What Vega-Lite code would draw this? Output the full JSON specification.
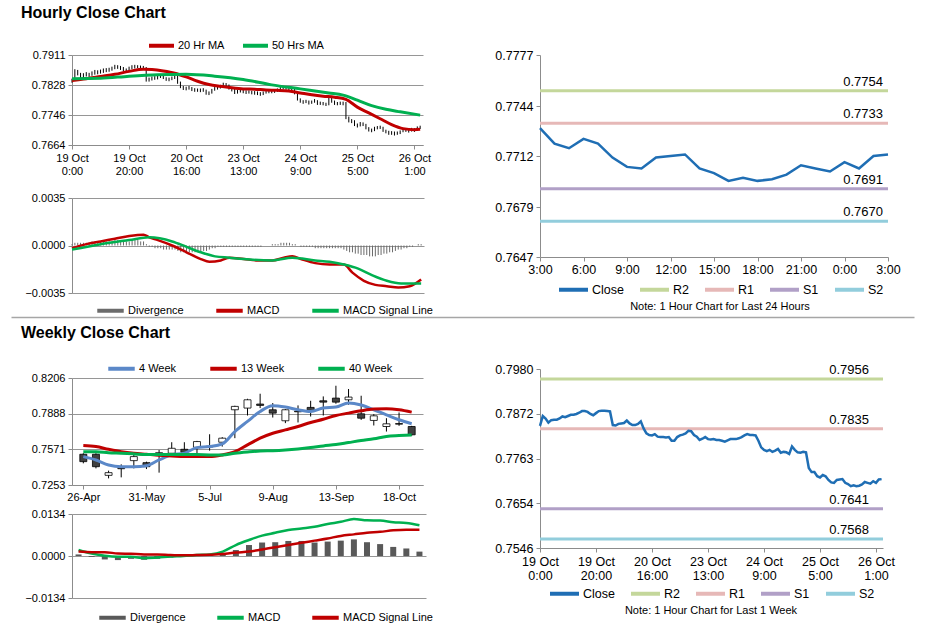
{
"$schema": "https://vega.github.io/schema/vega-lite/v6.json",
"background": "white",
"padding": {"left": 21, "top": 5, "right": 13, "bottom": 10},
"columns": 2,
"align": "none",
"bounds": "flush",
"spacing": {"row": 0, "column": 114},
"resolve": {"scale": {"color": "independent"}, "legend": {"color": "independent"}},
"datasets": {
"hourly": [
{"i":0,"c":0.7842,"h":0.7846,"l":0.7835,"d":0.0001},
{"i":1,"c":0.7866,"h":0.7872,"l":0.7840,"d":0.0002},
{"i":2,"c":0.7860,"h":0.7870,"l":0.7855,"d":0.0002},
{"i":3,"c":0.7850,"h":0.7862,"l":0.7846,"d":0.0002},
{"i":4,"c":0.7856,"h":0.7861,"l":0.7848,"d":0.0002},
{"i":5,"c":0.7857,"h":0.7864,"l":0.7852,"d":0.0002},
{"i":6,"c":0.7857,"h":0.7862,"l":0.7851,"d":0.0002},
{"i":7,"c":0.7860,"h":0.7866,"l":0.7854,"d":0.0003},
{"i":8,"c":0.7865,"h":0.7870,"l":0.7857,"d":0.0003},
{"i":9,"c":0.7863,"h":0.7869,"l":0.7858,"d":0.0003},
{"i":10,"c":0.7866,"h":0.7871,"l":0.7860,"d":0.0003},
{"i":11,"c":0.7869,"h":0.7874,"l":0.7862,"d":0.0003},
{"i":12,"c":0.7869,"h":0.7875,"l":0.7864,"d":0.0003},
{"i":13,"c":0.7871,"h":0.7876,"l":0.7865,"d":0.0003},
{"i":14,"c":0.7874,"h":0.7879,"l":0.7868,"d":0.0003},
{"i":15,"c":0.7878,"h":0.7884,"l":0.7872,"d":0.0004},
{"i":16,"c":0.7878,"h":0.7883,"l":0.7873,"d":0.0004},
{"i":17,"c":0.7876,"h":0.7881,"l":0.7870,"d":0.0004},
{"i":18,"c":0.7871,"h":0.7878,"l":0.7867,"d":0.0003},
{"i":19,"c":0.7868,"h":0.7874,"l":0.7864,"d":0.0003},
{"i":20,"c":0.7873,"h":0.7879,"l":0.7867,"d":0.0003},
{"i":21,"c":0.7878,"h":0.7883,"l":0.7872,"d":0.0004},
{"i":22,"c":0.7879,"h":0.7884,"l":0.7874,"d":0.0004},
{"i":23,"c":0.7879,"h":0.7883,"l":0.7875,"d":0.0004},
{"i":24,"c":0.7878,"h":0.7882,"l":0.7873,"d":0.0003},
{"i":25,"c":0.7877,"h":0.7881,"l":0.7872,"d":0.0003},
{"i":26,"c":0.7844,"h":0.7878,"l":0.7838,"d":0.0001},
{"i":27,"c":0.7843,"h":0.7849,"l":0.7838,"d":-0.0001},
{"i":28,"c":0.7847,"h":0.7852,"l":0.7841,"d":-0.0001},
{"i":29,"c":0.7848,"h":0.7853,"l":0.7843,"d":-0.0002},
{"i":30,"c":0.7849,"h":0.7854,"l":0.7844,"d":-0.0002},
{"i":31,"c":0.7855,"h":0.7859,"l":0.7848,"d":-0.0002},
{"i":32,"c":0.7848,"h":0.7856,"l":0.7845,"d":-0.0003},
{"i":33,"c":0.7844,"h":0.7850,"l":0.7840,"d":-0.0003},
{"i":34,"c":0.7844,"h":0.7849,"l":0.7839,"d":-0.0003},
{"i":35,"c":0.7847,"h":0.7852,"l":0.7842,"d":-0.0003},
{"i":36,"c":0.7853,"h":0.7858,"l":0.7845,"d":-0.0003},
{"i":37,"c":0.7836,"h":0.7855,"l":0.7832,"d":-0.0004},
{"i":38,"c":0.7824,"h":0.7838,"l":0.7820,"d":-0.0005},
{"i":39,"c":0.7820,"h":0.7826,"l":0.7815,"d":-0.0005},
{"i":40,"c":0.7819,"h":0.7824,"l":0.7814,"d":-0.0005},
{"i":41,"c":0.7822,"h":0.7826,"l":0.7816,"d":-0.0005},
{"i":42,"c":0.7816,"h":0.7823,"l":0.7812,"d":-0.0005},
{"i":43,"c":0.7815,"h":0.7820,"l":0.7810,"d":-0.0005},
{"i":44,"c":0.7815,"h":0.7819,"l":0.7810,"d":-0.0005},
{"i":45,"c":0.7814,"h":0.7819,"l":0.7809,"d":-0.0005},
{"i":46,"c":0.7815,"h":0.7820,"l":0.7810,"d":-0.0004},
{"i":47,"c":0.7806,"h":0.7816,"l":0.7802,"d":-0.0004},
{"i":48,"c":0.7806,"h":0.7811,"l":0.7801,"d":-0.0003},
{"i":49,"c":0.7815,"h":0.7818,"l":0.7805,"d":-0.0002},
{"i":50,"c":0.7819,"h":0.7823,"l":0.7813,"d":-0.0002},
{"i":51,"c":0.7821,"h":0.7826,"l":0.7816,"d":-0.0001},
{"i":52,"c":0.7824,"h":0.7829,"l":0.7819,"d":-0.0001},
{"i":53,"c":0.7830,"h":0.7835,"l":0.7823,"d":-0.0001},
{"i":54,"c":0.7829,"h":0.7834,"l":0.7824,"d":-0.0001},
{"i":55,"c":0.7820,"h":0.7830,"l":0.7816,"d":-0.0001},
{"i":56,"c":0.7816,"h":0.7822,"l":0.7811,"d":-0.0001},
{"i":57,"c":0.7808,"h":0.7818,"l":0.7804,"d":-0.0001},
{"i":58,"c":0.7811,"h":0.7815,"l":0.7805,"d":-0.0001},
{"i":59,"c":0.7815,"h":0.7818,"l":0.7808,"d":-0.0001},
{"i":60,"c":0.7810,"h":0.7816,"l":0.7806,"d":-0.0001},
{"i":61,"c":0.7809,"h":0.7814,"l":0.7804,"d":-0.0001},
{"i":62,"c":0.7810,"h":0.7814,"l":0.7805,"d":-0.0001},
{"i":63,"c":0.7808,"h":0.7813,"l":0.7803,"d":-0.0001},
{"i":64,"c":0.7808,"h":0.7812,"l":0.7802,"d":-0.0001},
{"i":65,"c":0.7806,"h":0.7811,"l":0.7801,"d":-0.0001},
{"i":66,"c":0.7804,"h":0.7809,"l":0.7799,"d":-0.0001},
{"i":67,"c":0.7807,"h":0.7811,"l":0.7801,"d":0.0},
{"i":68,"c":0.7810,"h":0.7814,"l":0.7805,"d":0.0},
{"i":69,"c":0.7810,"h":0.7814,"l":0.7806,"d":0.0},
{"i":70,"c":0.7810,"h":0.7815,"l":0.7806,"d":0.0001},
{"i":71,"c":0.7812,"h":0.7816,"l":0.7807,"d":0.0001},
{"i":72,"c":0.7815,"h":0.7819,"l":0.7810,"d":0.0001},
{"i":73,"c":0.7819,"h":0.7823,"l":0.7813,"d":0.0002},
{"i":74,"c":0.7822,"h":0.7826,"l":0.7817,"d":0.0002},
{"i":75,"c":0.7820,"h":0.7825,"l":0.7816,"d":0.0002},
{"i":76,"c":0.7820,"h":0.7824,"l":0.7815,"d":0.0002},
{"i":77,"c":0.7819,"h":0.7823,"l":0.7814,"d":0.0001},
{"i":78,"c":0.7806,"h":0.7821,"l":0.7803,"d":0.0001},
{"i":79,"c":0.7790,"h":0.7808,"l":0.7786,"d":0.0},
{"i":80,"c":0.7784,"h":0.7792,"l":0.7780,"d":-0.0001},
{"i":81,"c":0.7781,"h":0.7787,"l":0.7777,"d":-0.0001},
{"i":82,"c":0.7784,"h":0.7788,"l":0.7779,"d":-0.0001},
{"i":83,"c":0.7779,"h":0.7786,"l":0.7775,"d":-0.0001},
{"i":84,"c":0.7782,"h":0.7786,"l":0.7777,"d":-0.0001},
{"i":85,"c":0.7786,"h":0.7790,"l":0.7780,"d":-0.0002},
{"i":86,"c":0.7777,"h":0.7787,"l":0.7774,"d":-0.0002},
{"i":87,"c":0.7779,"h":0.7783,"l":0.7774,"d":-0.0002},
{"i":88,"c":0.7778,"h":0.7782,"l":0.7773,"d":-0.0002},
{"i":89,"c":0.7774,"h":0.7780,"l":0.7771,"d":-0.0002},
{"i":90,"c":0.7792,"h":0.7795,"l":0.7773,"d":-0.0002},
{"i":91,"c":0.7784,"h":0.7793,"l":0.7780,"d":-0.0002},
{"i":92,"c":0.7778,"h":0.7786,"l":0.7774,"d":-0.0002},
{"i":93,"c":0.7777,"h":0.7782,"l":0.7773,"d":-0.0002},
{"i":94,"c":0.7779,"h":0.7783,"l":0.7774,"d":-0.0002},
{"i":95,"c":0.7778,"h":0.7783,"l":0.7773,"d":-0.0003},
{"i":96,"c":0.7740,"h":0.7782,"l":0.7735,"d":-0.0004},
{"i":97,"c":0.7730,"h":0.7742,"l":0.7726,"d":-0.0005},
{"i":98,"c":0.7730,"h":0.7735,"l":0.7724,"d":-0.0005},
{"i":99,"c":0.7720,"h":0.7732,"l":0.7716,"d":-0.0006},
{"i":100,"c":0.7717,"h":0.7723,"l":0.7712,"d":-0.0006},
{"i":101,"c":0.7723,"h":0.7727,"l":0.7715,"d":-0.0007},
{"i":102,"c":0.7720,"h":0.7726,"l":0.7716,"d":-0.0007},
{"i":103,"c":0.7711,"h":0.7722,"l":0.7707,"d":-0.0007},
{"i":104,"c":0.7705,"h":0.7713,"l":0.7701,"d":-0.0008},
{"i":105,"c":0.7704,"h":0.7709,"l":0.7699,"d":-0.0008},
{"i":106,"c":0.7711,"h":0.7714,"l":0.7702,"d":-0.0008},
{"i":107,"c":0.7712,"h":0.7716,"l":0.7707,"d":-0.0007},
{"i":108,"c":0.7713,"h":0.7717,"l":0.7708,"d":-0.0007},
{"i":109,"c":0.7704,"h":0.7714,"l":0.7700,"d":-0.0006},
{"i":110,"c":0.7701,"h":0.7706,"l":0.7696,"d":-0.0006},
{"i":111,"c":0.7696,"h":0.7703,"l":0.7692,"d":-0.0005},
{"i":112,"c":0.7698,"h":0.7702,"l":0.7692,"d":-0.0005},
{"i":113,"c":0.7696,"h":0.7701,"l":0.7690,"d":-0.0004},
{"i":114,"c":0.7697,"h":0.7701,"l":0.7692,"d":-0.0003},
{"i":115,"c":0.7700,"h":0.7704,"l":0.7694,"d":-0.0003},
{"i":116,"c":0.7706,"h":0.7709,"l":0.7699,"d":-0.0002},
{"i":117,"c":0.7704,"h":0.7709,"l":0.7700,"d":-0.0002},
{"i":118,"c":0.7702,"h":0.7707,"l":0.7698,"d":-0.0001},
{"i":119,"c":0.7708,"h":0.7711,"l":0.7701,"d":-0.0001},
{"i":120,"c":0.7704,"h":0.7710,"l":0.7700,"d":0.0},
{"i":121,"c":0.7712,"h":0.7715,"l":0.7703,"d":0.0001},
{"i":122,"c":0.7713,"h":0.7717,"l":0.7708,"d":0.0001}
],
"hl": [
{"i":0,"s":"20 Hr MA","v":0.7841},{"i":5,"s":"20 Hr MA","v":0.7846},{"i":10,"s":"20 Hr MA","v":0.7852},{"i":15,"s":"20 Hr MA","v":0.7858},{"i":20,"s":"20 Hr MA","v":0.7866},{"i":25,"s":"20 Hr MA","v":0.7872},{"i":28,"s":"20 Hr MA","v":0.7871},{"i":32,"s":"20 Hr MA","v":0.7867},{"i":36,"s":"20 Hr MA","v":0.7861},{"i":40,"s":"20 Hr MA","v":0.7851},{"i":44,"s":"20 Hr MA","v":0.7839},{"i":48,"s":"20 Hr MA","v":0.7830},{"i":52,"s":"20 Hr MA","v":0.7825},{"i":56,"s":"20 Hr MA","v":0.7821},{"i":60,"s":"20 Hr MA","v":0.7818},{"i":64,"s":"20 Hr MA","v":0.7817},{"i":68,"s":"20 Hr MA","v":0.7815},{"i":72,"s":"20 Hr MA","v":0.7814},{"i":76,"s":"20 Hr MA","v":0.7812},{"i":80,"s":"20 Hr MA","v":0.7807},{"i":84,"s":"20 Hr MA","v":0.7802},{"i":88,"s":"20 Hr MA","v":0.7798},{"i":92,"s":"20 Hr MA","v":0.7795},{"i":96,"s":"20 Hr MA","v":0.7789},{"i":100,"s":"20 Hr MA","v":0.7768},{"i":104,"s":"20 Hr MA","v":0.7752},{"i":108,"s":"20 Hr MA","v":0.7736},{"i":112,"s":"20 Hr MA","v":0.7720},{"i":116,"s":"20 Hr MA","v":0.7709},{"i":120,"s":"20 Hr MA","v":0.7706},{"i":122,"s":"20 Hr MA","v":0.7707},
{"i":0,"s":"50 Hrs MA","v":0.7846},{"i":10,"s":"50 Hrs MA","v":0.7847},{"i":20,"s":"50 Hrs MA","v":0.7853},{"i":30,"s":"50 Hrs MA","v":0.7857},{"i":40,"s":"50 Hrs MA","v":0.7858},{"i":50,"s":"50 Hrs MA","v":0.7853},{"i":60,"s":"50 Hrs MA","v":0.7844},{"i":70,"s":"50 Hrs MA","v":0.7829},{"i":80,"s":"50 Hrs MA","v":0.7818},{"i":90,"s":"50 Hrs MA","v":0.7807},{"i":95,"s":"50 Hrs MA","v":0.7801},{"i":100,"s":"50 Hrs MA","v":0.7787},{"i":105,"s":"50 Hrs MA","v":0.7772},{"i":110,"s":"50 Hrs MA","v":0.7762},{"i":115,"s":"50 Hrs MA","v":0.7755},{"i":122,"s":"50 Hrs MA","v":0.7746},
{"i":0,"s":"MACD","v":-0.0002},{"i":5,"s":"MACD","v":0.0001},{"i":10,"s":"MACD","v":0.0003},{"i":15,"s":"MACD","v":0.0005},{"i":20,"s":"MACD","v":0.0007},{"i":25,"s":"MACD","v":0.0008},{"i":27,"s":"MACD","v":0.0006},{"i":30,"s":"MACD","v":0.0004},{"i":35,"s":"MACD","v":0.0},{"i":40,"s":"MACD","v":-0.0005},{"i":45,"s":"MACD","v":-0.0010},{"i":48,"s":"MACD","v":-0.0012},{"i":52,"s":"MACD","v":-0.0011},{"i":55,"s":"MACD","v":-0.0009},{"i":60,"s":"MACD","v":-0.0010},{"i":65,"s":"MACD","v":-0.0011},{"i":70,"s":"MACD","v":-0.0011},{"i":74,"s":"MACD","v":-0.0009},{"i":77,"s":"MACD","v":-0.0008},{"i":80,"s":"MACD","v":-0.0010},{"i":85,"s":"MACD","v":-0.0013},{"i":90,"s":"MACD","v":-0.0014},{"i":95,"s":"MACD","v":-0.0014},{"i":98,"s":"MACD","v":-0.0020},{"i":102,"s":"MACD","v":-0.0026},{"i":106,"s":"MACD","v":-0.0029},{"i":110,"s":"MACD","v":-0.0030},{"i":114,"s":"MACD","v":-0.0031},{"i":118,"s":"MACD","v":-0.0030},{"i":122,"s":"MACD","v":-0.0025},
{"i":0,"s":"MACD Signal Line","v":-0.0003},{"i":10,"s":"MACD Signal Line","v":0.0001},{"i":20,"s":"MACD Signal Line","v":0.0004},{"i":27,"s":"MACD Signal Line","v":0.0006},{"i":35,"s":"MACD Signal Line","v":0.0003},{"i":40,"s":"MACD Signal Line","v":-0.0001},{"i":45,"s":"MACD Signal Line","v":-0.0005},{"i":50,"s":"MACD Signal Line","v":-0.0008},{"i":55,"s":"MACD Signal Line","v":-0.0009},{"i":60,"s":"MACD Signal Line","v":-0.0010},{"i":70,"s":"MACD Signal Line","v":-0.0011},{"i":77,"s":"MACD Signal Line","v":-0.0009},{"i":85,"s":"MACD Signal Line","v":-0.0011},{"i":90,"s":"MACD Signal Line","v":-0.0012},{"i":95,"s":"MACD Signal Line","v":-0.0014},{"i":100,"s":"MACD Signal Line","v":-0.0017},{"i":105,"s":"MACD Signal Line","v":-0.0022},{"i":110,"s":"MACD Signal Line","v":-0.0026},{"i":115,"s":"MACD Signal Line","v":-0.0028},{"i":122,"s":"MACD Signal Line","v":-0.0028}
],
"lv1": [{"s":"R2","v":0.7754},{"s":"R1","v":0.7733},{"s":"S1","v":0.7691},{"s":"S2","v":0.7670}],
"lv2": [{"s":"R2","v":0.7956},{"s":"R1","v":0.7835},{"s":"S1","v":0.7641},{"s":"S2","v":0.7568}],
"wk": [
{"w":0,"o":0.7527,"h":0.7536,"l":0.7446,"c":0.7461,"d":0.0005},
{"w":1,"o":0.7527,"h":0.7536,"l":0.7401,"c":0.7416,"d":-0.0003},
{"w":2,"o":0.7339,"h":0.7381,"l":0.7312,"c":0.7363,"d":-0.0011},
{"w":3,"o":0.7398,"h":0.7437,"l":0.7321,"c":0.7401,"d":-0.0013},
{"w":4,"o":0.7470,"h":0.7521,"l":0.7401,"c":0.7506,"d":-0.0009},
{"w":5,"o":0.7452,"h":0.7461,"l":0.7395,"c":0.7416,"d":-0.0012},
{"w":6,"o":0.7515,"h":0.7565,"l":0.7363,"c":0.7541,"d":-0.0009},
{"w":7,"o":0.7536,"h":0.7634,"l":0.7521,"c":0.7580,"d":-0.0005},
{"w":8,"o":0.7571,"h":0.7634,"l":0.7521,"c":0.7544,"d":-0.0003},
{"w":9,"o":0.7589,"h":0.7646,"l":0.7536,"c":0.7640,"d":0.0001},
{"w":10,"o":0.7592,"h":0.7705,"l":0.7559,"c":0.7598,"d":0.0002},
{"w":11,"o":0.7634,"h":0.7679,"l":0.7595,"c":0.7670,"d":0.0008},
{"w":12,"o":0.7923,"h":0.7959,"l":0.7670,"c":0.7953,"d":0.0019},
{"w":13,"o":0.7938,"h":0.8021,"l":0.7872,"c":0.8012,"d":0.0035},
{"w":14,"o":0.7974,"h":0.8066,"l":0.7938,"c":0.7962,"d":0.0043},
{"w":15,"o":0.7923,"h":0.7983,"l":0.7854,"c":0.7893,"d":0.0044},
{"w":16,"o":0.7825,"h":0.7929,"l":0.7804,"c":0.7923,"d":0.0048},
{"w":17,"o":0.7911,"h":0.7962,"l":0.7810,"c":0.7905,"d":0.0048},
{"w":18,"o":0.7944,"h":0.8003,"l":0.7863,"c":0.7917,"d":0.0043},
{"w":19,"o":0.8003,"h":0.8042,"l":0.7872,"c":0.7991,"d":0.0046},
{"w":20,"o":0.8027,"h":0.8137,"l":0.7977,"c":0.7991,"d":0.0049},
{"w":21,"o":0.8012,"h":0.8108,"l":0.7968,"c":0.8036,"d":0.0053},
{"w":22,"o":0.7887,"h":0.8048,"l":0.7833,"c":0.7848,"d":0.0044},
{"w":23,"o":0.7828,"h":0.7884,"l":0.7783,"c":0.7869,"d":0.0038},
{"w":24,"o":0.7774,"h":0.7848,"l":0.7729,"c":0.7798,"d":0.0029},
{"w":25,"o":0.7800,"h":0.7899,"l":0.7780,"c":0.7795,"d":0.0024},
{"w":26,"o":0.7774,"h":0.7780,"l":0.7691,"c":0.7700,"d":0.0014}
],
"wl": [
{"w":0,"s":"4 Week","v":0.7506},{"w":1,"s":"4 Week","v":0.7476},{"w":2,"s":"4 Week","v":0.7431},{"w":3,"s":"4 Week","v":0.7416},{"w":4,"s":"4 Week","v":0.7416},{"w":5,"s":"4 Week","v":0.7425},{"w":6,"s":"4 Week","v":0.7476},{"w":7,"s":"4 Week","v":0.7521},{"w":8,"s":"4 Week","v":0.7536},{"w":9,"s":"4 Week","v":0.7586},{"w":10,"s":"4 Week","v":0.7595},{"w":11,"s":"4 Week","v":0.7619},{"w":12,"s":"4 Week","v":0.7729},{"w":13,"s":"4 Week","v":0.7819},{"w":14,"s":"4 Week","v":0.7908},{"w":15,"s":"4 Week","v":0.7959},{"w":16,"s":"4 Week","v":0.7947},{"w":17,"s":"4 Week","v":0.7923},{"w":18,"s":"4 Week","v":0.7908},{"w":19,"s":"4 Week","v":0.7938},{"w":20,"s":"4 Week","v":0.7947},{"w":21,"s":"4 Week","v":0.7983},{"w":22,"s":"4 Week","v":0.7965},{"w":23,"s":"4 Week","v":0.7923},{"w":24,"s":"4 Week","v":0.7878},{"w":25,"s":"4 Week","v":0.7834},{"w":26,"s":"4 Week","v":0.7798},
{"w":0,"s":"13 Week","v":0.7604},{"w":1,"s":"13 Week","v":0.7595},{"w":2,"s":"13 Week","v":0.7571},{"w":3,"s":"13 Week","v":0.7550},{"w":4,"s":"13 Week","v":0.7536},{"w":5,"s":"13 Week","v":0.7527},{"w":6,"s":"13 Week","v":0.7518},{"w":7,"s":"13 Week","v":0.7512},{"w":8,"s":"13 Week","v":0.7506},{"w":9,"s":"13 Week","v":0.7506},{"w":10,"s":"13 Week","v":0.7506},{"w":11,"s":"13 Week","v":0.7521},{"w":12,"s":"13 Week","v":0.7550},{"w":13,"s":"13 Week","v":0.7610},{"w":14,"s":"13 Week","v":0.7670},{"w":15,"s":"13 Week","v":0.7714},{"w":16,"s":"13 Week","v":0.7744},{"w":17,"s":"13 Week","v":0.7774},{"w":18,"s":"13 Week","v":0.7810},{"w":19,"s":"13 Week","v":0.7839},{"w":20,"s":"13 Week","v":0.7872},{"w":21,"s":"13 Week","v":0.7893},{"w":22,"s":"13 Week","v":0.7914},{"w":23,"s":"13 Week","v":0.7929},{"w":24,"s":"13 Week","v":0.7932},{"w":25,"s":"13 Week","v":0.7923},{"w":26,"s":"13 Week","v":0.7902},
{"w":0,"s":"40 Week","v":0.7550},{"w":1,"s":"40 Week","v":0.7550},{"w":2,"s":"40 Week","v":0.7541},{"w":3,"s":"40 Week","v":0.7536},{"w":4,"s":"40 Week","v":0.7530},{"w":5,"s":"40 Week","v":0.7524},{"w":6,"s":"40 Week","v":0.7524},{"w":7,"s":"40 Week","v":0.7524},{"w":8,"s":"40 Week","v":0.7524},{"w":9,"s":"40 Week","v":0.7524},{"w":10,"s":"40 Week","v":0.7521},{"w":11,"s":"40 Week","v":0.7521},{"w":12,"s":"40 Week","v":0.7536},{"w":13,"s":"40 Week","v":0.7547},{"w":14,"s":"40 Week","v":0.7556},{"w":15,"s":"40 Week","v":0.7559},{"w":16,"s":"40 Week","v":0.7565},{"w":17,"s":"40 Week","v":0.7574},{"w":18,"s":"40 Week","v":0.7586},{"w":19,"s":"40 Week","v":0.7601},{"w":20,"s":"40 Week","v":0.7613},{"w":21,"s":"40 Week","v":0.7631},{"w":22,"s":"40 Week","v":0.7649},{"w":23,"s":"40 Week","v":0.7664},{"w":24,"s":"40 Week","v":0.7685},{"w":25,"s":"40 Week","v":0.7693},{"w":26,"s":"40 Week","v":0.7699},
{"w":0,"s":"MACD","v":0.0019},{"w":1,"s":"MACD","v":0.0008},{"w":2,"s":"MACD","v":0.0001},{"w":3,"s":"MACD","v":-0.0002},{"w":4,"s":"MACD","v":-0.0002},{"w":5,"s":"MACD","v":-0.0007},{"w":6,"s":"MACD","v":-0.0005},{"w":7,"s":"MACD","v":-0.0002},{"w":8,"s":"MACD","v":0.0},{"w":9,"s":"MACD","v":0.0003},{"w":10,"s":"MACD","v":0.0005},{"w":11,"s":"MACD","v":0.0014},{"w":12,"s":"MACD","v":0.0035},{"w":13,"s":"MACD","v":0.0051},{"w":14,"s":"MACD","v":0.0065},{"w":15,"s":"MACD","v":0.0074},{"w":16,"s":"MACD","v":0.0083},{"w":17,"s":"MACD","v":0.0088},{"w":18,"s":"MACD","v":0.0093},{"w":19,"s":"MACD","v":0.0102},{"w":20,"s":"MACD","v":0.0109},{"w":21,"s":"MACD","v":0.0118},{"w":22,"s":"MACD","v":0.0114},{"w":23,"s":"MACD","v":0.0113},{"w":24,"s":"MACD","v":0.0108},{"w":25,"s":"MACD","v":0.0105},{"w":26,"s":"MACD","v":0.0098},
{"w":0,"s":"MACD Signal Line","v":0.0014},{"w":1,"s":"MACD Signal Line","v":0.0012},{"w":2,"s":"MACD Signal Line","v":0.0012},{"w":3,"s":"MACD Signal Line","v":0.0008},{"w":4,"s":"MACD Signal Line","v":0.0007},{"w":5,"s":"MACD Signal Line","v":0.0005},{"w":6,"s":"MACD Signal Line","v":0.0005},{"w":7,"s":"MACD Signal Line","v":0.0003},{"w":8,"s":"MACD Signal Line","v":0.0002},{"w":9,"s":"MACD Signal Line","v":0.0003},{"w":10,"s":"MACD Signal Line","v":0.0004},{"w":11,"s":"MACD Signal Line","v":0.0006},{"w":12,"s":"MACD Signal Line","v":0.0011},{"w":13,"s":"MACD Signal Line","v":0.0014},{"w":14,"s":"MACD Signal Line","v":0.0021},{"w":15,"s":"MACD Signal Line","v":0.0028},{"w":16,"s":"MACD Signal Line","v":0.0035},{"w":17,"s":"MACD Signal Line","v":0.0042},{"w":18,"s":"MACD Signal Line","v":0.0049},{"w":19,"s":"MACD Signal Line","v":0.0056},{"w":20,"s":"MACD Signal Line","v":0.0064},{"w":21,"s":"MACD Signal Line","v":0.0069},{"w":22,"s":"MACD Signal Line","v":0.0074},{"w":23,"s":"MACD Signal Line","v":0.0077},{"w":24,"s":"MACD Signal Line","v":0.0082},{"w":25,"s":"MACD Signal Line","v":0.0084},{"w":26,"s":"MACD Signal Line","v":0.0084}
]
},
"concat": [
{"width": 1, "height": 1, "data": {"values": []}, "mark": "point",
 "title": {"text": "Hourly Close Chart", "anchor": "start", "frame": "group", "dx": -51, "offset": 33, "fontSize": 16, "fontWeight": "bold", "color": "#000000", "font": "Liberation Sans"}},
{"width": 1, "height": 1, "data": {"values": []}, "mark": "point"},
{
"width": 351, "height": 90,
"layer": [
{"data": {"name": "hourly"}, "mark": {"type": "rule", "color": "#000000", "strokeWidth": 1},
 "encoding": {
  "x": {"field": "i", "type": "quantitative", "scale": {"domain": [0, 123], "nice": false, "zero": false},
        "axis": {"title": null, "values": [0,20,40,60,80,100,120], "tickCount": 20, "grid": false, "labelExpr": "[['19 Oct','0:00'],['19 Oct','20:00'],['20 Oct','16:00'],['23 Oct','13:00'],['24 Oct','9:00'],['25 Oct','5:00'],['26 Oct','1:00']][datum.value/20]", "labelLineHeight": 13, "labelPadding": 3}},
  "y": {"field": "l", "type": "quantitative", "scale": {"domain": [0.7664, 0.7911], "nice": false, "zero": false},
        "axis": {"title": null, "values": [0.7664, 0.7746, 0.7828, 0.7911], "tickCount": 20, "format": ".4f", "grid": true}},
  "y2": {"field": "h"}}},
{"data": {"name": "hl"}, "transform": [{"filter": {"field": "s", "oneOf": ["20 Hr MA", "50 Hrs MA"]}}],
 "mark": {"type": "line", "strokeWidth": 3, "interpolate": "monotone"},
 "encoding": {
  "x": {"field": "i", "type": "quantitative"},
  "y": {"field": "v", "type": "quantitative"},
  "color": {"field": "s", "type": "nominal", "scale": {"domain": ["20 Hr MA", "50 Hrs MA"], "range": ["#C00000", "#00B050"]},
            "legend": {"title": null, "orient": "none", "direction": "horizontal", "legendX": 75, "legendY": -24, "columnPadding": 10, "symbolSize": 625}}}}
]
},
{
"width": 348, "height": 90,
"layer": [
{"data": {"name": "lv1"}, "mark": {"type": "rule", "strokeWidth": 3},
 "encoding": {
  "y": {"field": "v", "type": "quantitative", "scale": {"domain": [0.7647, 0.7777], "range": [202, 0], "nice": false, "zero": false},
        "axis": {"title": null, "values": [0.7647, 0.7679, 0.7712, 0.7744, 0.7777], "tickCount": 20, "format": ".4f", "grid": false, "labelFontSize": 12.5}},
  "color": {"field": "s", "type": "nominal"}}},
{"data": {"name": "hourly"}, "transform": [{"filter": "datum.i >= 98"}],
 "mark": {"type": "line", "strokeWidth": 2.5},
 "encoding": {
  "x": {"field": "i", "type": "quantitative", "scale": {"domain": [98, 122], "nice": false, "zero": false},
        "axis": {"title": null, "offset": 112, "values": [98,101,104,107,110,113,116,119,122], "tickCount": 20, "grid": false, "labelExpr": "((datum.value - 95) % 24) + ':00'", "labelFontSize": 12.5, "labelPadding": 2}},
  "y": {"field": "c", "type": "quantitative"},
  "color": {"datum": "Close", "type": "nominal", "scale": {"domain": ["Close", "R2", "R1", "S1", "S2"], "range": ["#1F6EB4", "#C4D79B", "#E6B8B7", "#B1A0C7", "#92CDDC"]},
            "legend": {"title": "Note: 1 Hour Chart for Last 24 Hours", "titleOrient": "bottom", "titleAnchor": "middle", "titleFontSize": 11, "titleFontWeight": "normal", "titleColor": "#000000", "titlePadding": 3, "orient": "none", "direction": "horizontal", "legendX": 17, "legendY": 218, "columnPadding": 8, "symbolSize": 841, "labelFontSize": 12.5}}}},
{"data": {"name": "lv1"}, "mark": {"type": "text", "align": "right", "baseline": "alphabetic", "dx": -5, "dy": -5, "fontSize": 13, "color": "#000000"},
 "encoding": {
  "x": {"datum": 122, "type": "quantitative"},
  "y": {"field": "v", "type": "quantitative"},
  "text": {"field": "v", "type": "quantitative", "format": ".4f"}}}
]
},
{"width": 1, "height": 53, "data": {"values": []}, "mark": "point"},
{"width": 1, "height": 1, "data": {"values": []}, "mark": "point"},
{
"width": 352, "height": 95,
"layer": [
{"data": {"name": "hourly"}, "mark": {"type": "rule", "strokeWidth": 1},
 "encoding": {
  "x": {"field": "i", "type": "quantitative", "scale": {"domain": [0, 123], "nice": false, "zero": false}, "axis": null},
  "y": {"field": "d", "type": "quantitative", "scale": {"domain": [-0.0035, 0.0035], "nice": false},
        "axis": {"title": null, "values": [-0.0035, 0, 0.0035], "tickCount": 20, "format": ".4f", "grid": true}},
  "y2": {"datum": 0},
  "color": {"datum": "Divergence", "type": "nominal"}}},
{"data": {"name": "hl"}, "transform": [{"filter": {"field": "s", "oneOf": ["MACD", "MACD Signal Line"]}}],
 "mark": {"type": "line", "strokeWidth": 2.5, "interpolate": "monotone"},
 "encoding": {
  "x": {"field": "i", "type": "quantitative"},
  "y": {"field": "v", "type": "quantitative"},
  "color": {"field": "s", "type": "nominal", "scale": {"domain": ["Divergence", "MACD", "MACD Signal Line"], "range": ["#6B6B6B", "#C00000", "#00B050"]},
            "legend": {"title": null, "orient": "none", "direction": "horizontal", "legendX": 23, "legendY": 97, "columnPadding": 24}}}}
]
},
{"width": 1, "height": 1, "data": {"values": []}, "mark": "point"},
{"width": 1, "height": 24, "data": {"values": []}, "mark": "point"},
{"width": 1, "height": 1, "data": {"values": []}, "mark": "point"},
{
"width": 1, "height": 24,
"data": {"values": [{"v": 0}]},
"mark": {"type": "point", "opacity": 0},
"encoding": {"x": {"field": "v", "type": "quantitative", "scale": {"range": [-61, 842]}, "axis": {"orient": "top", "domain": true, "domainColor": "#A6A6A6", "domainWidth": 1.5, "ticks": false, "labels": false, "grid": false, "title": null}}}
},
{"width": 1, "height": 1, "data": {"values": []}, "mark": "point"},
{"width": 1, "height": 1, "data": {"values": []}, "mark": "point",
 "title": {"text": "Weekly Close Chart", "anchor": "start", "frame": "group", "dx": -51, "offset": 0, "fontSize": 16, "fontWeight": "bold", "color": "#000000", "font": "Liberation Sans"}},
{"width": 1, "height": 1, "data": {"values": []}, "mark": "point"},
{"width": 1, "height": 36, "data": {"values": []}, "mark": "point"},
{"width": 1, "height": 1, "data": {"values": []}, "mark": "point"},
{
"width": 351, "height": 107,
"layer": [
{"data": {"name": "wk"}, "mark": {"type": "rule", "color": "#000000", "strokeWidth": 1},
 "encoding": {
  "x": {"field": "w", "type": "quantitative", "scale": {"domain": [-0.5, 26.5], "nice": false, "zero": false},
        "axis": {"title": null, "values": [0,5,10,15,20,25], "tickCount": 20, "grid": false, "labelExpr": "['26-Apr','31-May','5-Jul','9-Aug','13-Sep','18-Oct'][datum.value/5]", "labelPadding": 2}},
  "y": {"field": "l", "type": "quantitative", "scale": {"domain": [0.7253, 0.8206], "nice": false, "zero": false},
        "axis": {"title": null, "values": [0.7253, 0.7571, 0.7888, 0.8206], "tickCount": 20, "format": ".4f", "grid": true}},
  "y2": {"field": "h"}}},
{"data": {"name": "wk"}, "mark": {"type": "bar", "size": 7, "stroke": "#000000", "strokeWidth": 0.8},
 "encoding": {
  "x": {"field": "w", "type": "quantitative"},
  "y": {"field": "o", "type": "quantitative"},
  "y2": {"field": "c"},
  "fill": {"condition": {"test": "datum.c >= datum.o", "value": "#FFFFFF"}, "value": "#404040"}}},
{"data": {"name": "wl"}, "transform": [{"filter": {"field": "s", "oneOf": ["4 Week", "13 Week", "40 Week"]}}],
 "mark": {"type": "line", "strokeWidth": 3, "interpolate": "monotone"},
 "encoding": {
  "x": {"field": "w", "type": "quantitative"},
  "y": {"field": "v", "type": "quantitative"},
  "color": {"field": "s", "type": "nominal", "scale": {"domain": ["4 Week", "13 Week", "40 Week"], "range": ["#5B88C8", "#C00000", "#00B050"]},
            "legend": {"title": null, "orient": "none", "direction": "horizontal", "legendX": 34, "legendY": -25, "columnPadding": 25}}}}
]
},
{
"width": 343, "height": 107,
"layer": [
{"data": {"name": "lv2"}, "mark": {"type": "rule", "strokeWidth": 3},
 "encoding": {
  "y": {"field": "v", "type": "quantitative", "scale": {"domain": [0.7546, 0.7980], "range": [170, -9], "nice": false, "zero": false},
        "axis": {"title": null, "values": [0.7546, 0.7654, 0.7763, 0.7872, 0.7980], "tickCount": 20, "format": ".4f", "grid": false, "labelFontSize": 12.5}},
  "color": {"field": "s", "type": "nominal"}}},
{"data": {"name": "hourly"},
 "mark": {"type": "line", "strokeWidth": 2.5},
 "encoding": {
  "x": {"field": "i", "type": "quantitative", "scale": {"domain": [0, 122.5], "nice": false, "zero": false},
        "axis": {"title": null, "offset": 63, "values": [0,20,40,60,80,100,120], "tickCount": 20, "grid": false, "labelExpr": "[['19 Oct','0:00'],['19 Oct','20:00'],['20 Oct','16:00'],['23 Oct','13:00'],['24 Oct','9:00'],['25 Oct','5:00'],['26 Oct','1:00']][datum.value/20]", "labelFontSize": 12.5, "labelLineHeight": 14, "labelPadding": 3}},
  "y": {"field": "c", "type": "quantitative"},
  "color": {"datum": "Close", "type": "nominal", "scale": {"domain": ["Close", "R2", "R1", "S1", "S2"], "range": ["#1F6EB4", "#C4D79B", "#E6B8B7", "#B1A0C7", "#92CDDC"]},
            "legend": {"title": "Note: 1 Hour Chart for Last 1 Week", "titleOrient": "bottom", "titleAnchor": "middle", "titleFontSize": 11, "titleFontWeight": "normal", "titleColor": "#000000", "titlePadding": 3, "orient": "none", "direction": "horizontal", "legendX": 8, "legendY": 199, "columnPadding": 8, "symbolSize": 841, "labelFontSize": 12.5}}}},
{"data": {"name": "lv2"}, "mark": {"type": "text", "align": "right", "baseline": "alphabetic", "dx": -14, "dy": -5, "fontSize": 13, "color": "#000000"},
 "encoding": {
  "x": {"datum": 122.5, "type": "quantitative"},
  "y": {"field": "v", "type": "quantitative"},
  "text": {"field": "v", "type": "quantitative", "format": ".4f"}}}
]
},
{"width": 1, "height": 29, "data": {"values": []}, "mark": "point"},
{"width": 1, "height": 1, "data": {"values": []}, "mark": "point"},
{
"width": 354, "height": 84,
"layer": [
{"data": {"name": "wk"}, "mark": {"type": "rule", "strokeWidth": 6},
 "encoding": {
  "x": {"field": "w", "type": "quantitative", "scale": {"domain": [-0.5, 26.5], "nice": false, "zero": false}, "axis": null},
  "y": {"field": "d", "type": "quantitative", "scale": {"domain": [-0.0134, 0.0134], "nice": false},
        "axis": {"title": null, "values": [-0.0134, 0, 0.0134], "tickCount": 20, "format": ".4f", "grid": true}},
  "y2": {"datum": 0},
  "color": {"datum": "Divergence", "type": "nominal"}}},
{"data": {"name": "wl"}, "transform": [{"filter": {"field": "s", "oneOf": ["MACD", "MACD Signal Line"]}}],
 "mark": {"type": "line", "strokeWidth": 2.5, "interpolate": "monotone"},
 "encoding": {
  "x": {"field": "w", "type": "quantitative"},
  "y": {"field": "v", "type": "quantitative"},
  "color": {"field": "s", "type": "nominal", "scale": {"domain": ["Divergence", "MACD", "MACD Signal Line"], "range": ["#595959", "#00B050", "#C00000"]},
            "legend": {"title": null, "orient": "none", "direction": "horizontal", "legendX": 25, "legendY": 88, "columnPadding": 23}}}}
]
}
],
"config": {
"font": "Liberation Sans",
"view": {"stroke": null},
"axis": {"labelFont": "Liberation Sans", "labelColor": "#000000", "labelFontSize": 11, "domainColor": "#8C8C8C", "tickColor": "#8C8C8C", "gridColor": "#969696", "labelPadding": 3, "tickSize": 4, "labelFlush": false, "labelOverlap": false},
"legend": {"labelFont": "Liberation Sans", "labelColor": "#000000", "labelFontSize": 11, "symbolType": "stroke", "symbolStrokeWidth": 4, "symbolSize": 700, "labelOffset": 2, "padding": 0, "titleFont": "Liberation Sans"},
"title": {"font": "Liberation Sans"}
}
}
